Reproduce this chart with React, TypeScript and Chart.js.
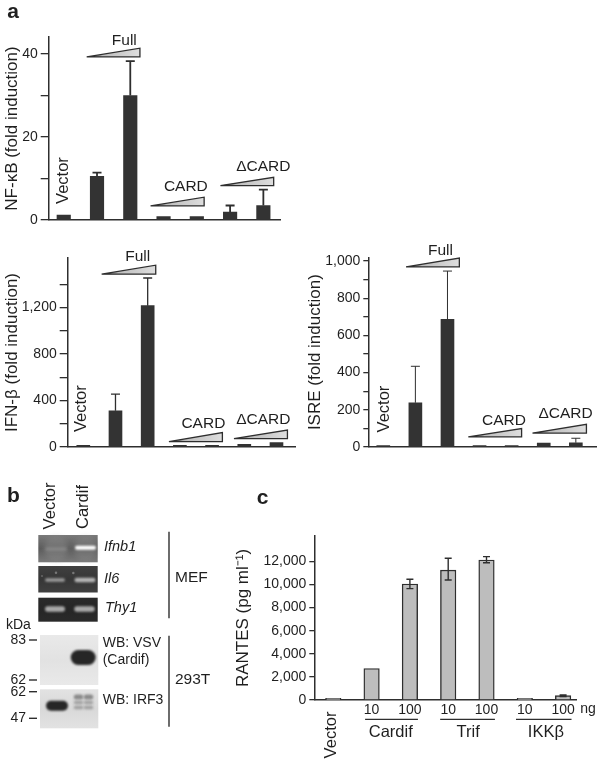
import React, { useEffect, useRef } from "react";
import { Chart, registerables } from "chart.js";

Chart.register(...registerables);
const FONT = "'Liberation Sans', Arial, sans-serif";
Chart.defaults.font.family = FONT;
Chart.defaults.color = "#222";
const INK = "#2e2e2e";

// ---------- Data ----------
const nfkbValues = [1.2, 10.5, 30, 0.8, 0.8, 1.9, 3.5];
const nfkbUpper = [null, 11.4, 38.3, null, null, 3.5, 7.3];
const nfkbTicks = [0, 20, 40];
const nfkbAllTicks = [0, 10, 20, 30, 40];

const ifnValues = [15, 312, 1215, 15, 15, 23, 37];
const ifnUpper = [null, 455, 1453, null, null, null, null];
const ifnTicks = [0, 400, 800, 1200];
const ifnAllTicks = [0, 200, 400, 600, 800, 1000, 1200, 1400];

const isreValues = [8, 238, 686, 8, 8, 21, 23];
const isreUpper = [null, 434, 946, null, null, null, 47];
const isreTicks = [0, 200, 400, 600, 800, 1000];
const isreAllTicks = [0, 100, 200, 300, 400, 500, 600, 700, 800, 900, 1000];

const rantesLabels = ["", "10", "100", "10", "100", "10", "100"];
const rantesValues = [150, 2730, 10040, 11250, 12120, 150, 380];
const rantesUpper = [null, null, 10450, 12270, 12410, null, 430];
const rantesLower = [null, null, 9640, 10390, 11890, null, 300];
const rantesTicks = [0, 2000, 4000, 6000, 8000, 10000, 12000];

// ---------- Annotations, in each chart's data units ----------
type Wedge = { from: number; to: number; base: number; top: number };
type Label = { text: string; x: number; y: number; size?: number; rotate?: boolean; align?: CanvasTextAlign; weight?: string; italic?: boolean };
type Rule = { from: number; to: number; y: number };

const nfkbWedges: Wedge[] = [
  { from: 1.69, to: 3.29, base: 39.3, top: 41.4 },
  { from: 3.61, to: 5.22, base: 3.4, top: 5.5 },
  { from: 5.71, to: 7.31, base: 8.3, top: 10.3 },
];
const nfkbLabels: Label[] = [
  { text: "Full", x: 2.82, y: 43.2 },
  { text: "CARD", x: 4.67, y: 8 },
  { text: "ΔCARD", x: 7.0, y: 12.8 },
  { text: "Vector", x: 0.98, y: 9.5, rotate: true, size: 16.5 },
  { text: "a", x: -0.7, y: 50, size: 21, weight: "bold", align: "left" },
];
const ifnWedges: Wedge[] = [
  { from: 1.57, to: 3.25, base: 1486, top: 1563 },
  { from: 3.66, to: 5.32, base: 46, top: 124 },
  { from: 5.68, to: 7.34, base: 72, top: 146 },
];
const ifnLabels: Label[] = [
  { text: "Full", x: 2.69, y: 1634 },
  { text: "CARD", x: 4.73, y: 204 },
  { text: "ΔCARD", x: 6.59, y: 236 },
  { text: "Vector", x: 0.94, y: 330, rotate: true, size: 16.5 },
];
const isreWedges: Wedge[] = [
  { from: 1.71, to: 3.37, base: 968, top: 1016 },
  { from: 3.65, to: 5.31, base: 54, top: 99 },
  { from: 5.65, to: 7.33, base: 75, top: 122 },
];
const isreLabels: Label[] = [
  { text: "Full", x: 2.78, y: 1058 },
  { text: "CARD", x: 4.76, y: 142 },
  { text: "ΔCARD", x: 6.68, y: 180 },
  { text: "Vector", x: 1.04, y: 204, rotate: true, size: 16.5 },
];
const rantesRules: Rule[] = [
  { from: 1.83, to: 3.21, y: -1671 },
  { from: 3.79, to: 5.22, y: -1671 },
  { from: 5.77, to: 7.22, y: -1671 },
];
const rantesNotes: Label[] = [
  { text: "Cardif", x: 2.5, y: -2771, size: 16.5 },
  { text: "Trif", x: 4.52, y: -2771, size: 16.5 },
  { text: "IKKβ", x: 6.55, y: -2771, size: 16.5 },
  { text: "ng", x: 7.65, y: -779, size: 14 },
  { text: "Vector", x: 0.96, y: -3030, rotate: true, size: 16.5 },
  { text: "c", x: -1.0, y: 17480, size: 21, weight: "bold", align: "left" },
];

// ---------- Panel b (axis units equal page units) ----------
const gels = [
  { x0: 38.3, x1: 97.7, y0: 535, y1: 562.3, edge: "#7a7a7a", mid: "#5c5c5c" },
  { x0: 38.3, x1: 97.7, y0: 566, y1: 592.5, edge: "#404040", mid: "#363636" },
  { x0: 38.3, x1: 97.7, y0: 597.7, y1: 621.7, edge: "#2a2a2a", mid: "#262626" },
  { x0: 40, x1: 98.3, y0: 635, y1: 685, edge: "#e9e9e9", mid: "#e2e2e2" },
  { x0: 40, x1: 98.3, y0: 689.3, y1: 728.3, edge: "#e2e2e2", mid: "#d9d9d9" },
];
const bands = [
  // lane glow and the dark gap of the first gel
  { x: 56, y: 548.5, w: 23, h: 25, color: "rgba(150,150,150,0.32)", blur: 2.5 },
  { x: 85.5, y: 548.5, w: 23, h: 25, color: "rgba(150,150,150,0.28)", blur: 2.5 },
  { x: 56, y: 549, w: 22, h: 3, color: "rgba(170,170,170,0.5)", blur: 1.5 },
  { x: 85.5, y: 547.7, w: 21, h: 4, color: "#ffffff", blur: 0.9 },
  // second gel
  { x: 55, y: 580, w: 20, h: 3.5, color: "#9a9a9a", blur: 0.9 },
  { x: 85, y: 580, w: 21, h: 4.5, color: "#b5b5b5", blur: 0.9 },
  { x: 56, y: 572.7, w: 2.5, h: 2.5, color: "#777777", blur: 0.6 },
  { x: 73.3, y: 573, w: 2.5, h: 2.5, color: "#777777", blur: 0.6 },
  { x: 42, y: 576, w: 2, h: 2, color: "#666666", blur: 0.6 },
  // third gel
  { x: 55, y: 609, w: 20, h: 5.5, color: "#aaaaaa", blur: 0.9 },
  { x: 84.5, y: 609, w: 20.5, h: 5.5, color: "#aaaaaa", blur: 0.9 },
  // immunoblots
  { x: 83.2, y: 657.5, w: 25, h: 15, color: "#262626", blur: 0.9 },
  { x: 57, y: 705.7, w: 22, h: 10, color: "#262626", blur: 0.8 },
  { x: 78.5, y: 697, w: 9.5, h: 5, color: "rgba(110,110,110,0.75)", blur: 1.3 },
  { x: 88.5, y: 697, w: 9.5, h: 5, color: "rgba(110,110,110,0.75)", blur: 1.3 },
  { x: 78.5, y: 702.5, w: 9.5, h: 3.5, color: "rgba(130,130,130,0.65)", blur: 1.2 },
  { x: 88.5, y: 702.5, w: 9.5, h: 3.5, color: "rgba(130,130,130,0.65)", blur: 1.2 },
  { x: 78.5, y: 707.5, w: 9.5, h: 3.5, color: "rgba(130,130,130,0.65)", blur: 1.2 },
  { x: 88.5, y: 707.5, w: 9.5, h: 3.5, color: "rgba(130,130,130,0.65)", blur: 1.2 },
];
const blotLabels: Label[] = [
  { text: "b", x: 7, y: 496.7, size: 21, weight: "bold", align: "left" },
  { text: "Vector", x: 50, y: 506, size: 16.5, rotate: true },
  { text: "Cardif", x: 83, y: 507, size: 16.5, rotate: true },
  { text: "Ifnb1", x: 104, y: 546.7, size: 14.5, italic: true, align: "left" },
  { text: "Il6", x: 104, y: 579, size: 14.5, italic: true, align: "left" },
  { text: "Thy1", x: 105, y: 607.7, size: 14.5, italic: true, align: "left" },
  { text: "MEF", x: 175, y: 578, size: 15.5, align: "left" },
  { text: "293T", x: 175, y: 680, size: 15.5, align: "left" },
  { text: "kDa", x: 6, y: 625, size: 14, align: "left" },
  { text: "83", x: 26, y: 640, size: 14, align: "right" },
  { text: "62", x: 26, y: 680, size: 14, align: "right" },
  { text: "62", x: 26, y: 691.7, size: 14, align: "right" },
  { text: "47", x: 26, y: 718.3, size: 14, align: "right" },
  { text: "WB: VSV", x: 102.7, y: 643.3, size: 14, align: "left" },
  { text: "(Cardif)", x: 102.7, y: 660, size: 14, align: "left" },
  { text: "WB: IRF3", x: 102.7, y: 700, size: 14, align: "left" },
];
const kdaMarks = [640, 680, 691.7, 718.3];
const brackets = [
  { y0: 531.7, y1: 618.3 },
  { y0: 635.7, y1: 726.7 },
];

// ---------- Plugins ----------
function drawLabel(ctx: CanvasRenderingContext2D, l: Label, x: number, y: number) {
  ctx.save();
  ctx.fillStyle = "#1f1f1f";
  ctx.font = `${l.italic ? "italic " : ""}${l.weight ?? "normal"} ${l.size ?? 15.5}px ${FONT}`;
  ctx.textAlign = l.align ?? "center";
  ctx.textBaseline = "middle";
  ctx.translate(x, y);
  if (l.rotate) ctx.rotate(-Math.PI / 2);
  ctx.fillText(l.text, 0, 0);
  ctx.restore();
}

const overlay = {
  id: "overlay",
  afterDatasetsDraw(chart: any, _a: any, o: any) {
    const { ctx, scales } = chart;
    const X = scales.x, Y = scales.y;
    const ds = chart.data.datasets[0];
    if (ds && o.upper) {
      ctx.save();
      ctx.strokeStyle = INK;
      ctx.lineWidth = o.errWidth ?? 1.5;
      o.upper.forEach((u: number | null, i: number) => {
        if (u == null) return;
        const px = X.getPixelForValue(i + 1);
        const top = Y.getPixelForValue(u);
        const low = o.lower && o.lower[i] != null ? o.lower[i] : ds.data[i].y;
        const bot = Y.getPixelForValue(low);
        const c = o.cap ?? 4.5;
        ctx.beginPath();
        ctx.moveTo(px, bot); ctx.lineTo(px, top);
        ctx.moveTo(px - c, top); ctx.lineTo(px + c, top);
        if (o.lower && o.lower[i] != null) { ctx.moveTo(px - c, bot); ctx.lineTo(px + c, bot); }
        ctx.stroke();
      });
      ctx.restore();
    }
    (o.wedges ?? []).forEach((w: Wedge) => {
      const x0 = X.getPixelForValue(w.from), x1 = X.getPixelForValue(w.to);
      const yb = Y.getPixelForValue(w.base), yt = Y.getPixelForValue(w.top);
      const g = ctx.createLinearGradient(x0, 0, x1, 0);
      g.addColorStop(0, "#3a3a3a"); g.addColorStop(0.3, "#bdbdbd"); g.addColorStop(1, "#dedede");
      ctx.save();
      ctx.beginPath();
      ctx.moveTo(x0, yb); ctx.lineTo(x1, yt); ctx.lineTo(x1, yb); ctx.closePath();
      ctx.fillStyle = g; ctx.fill();
      ctx.strokeStyle = INK; ctx.lineWidth = 1.3; ctx.stroke();
      ctx.restore();
    });
    (o.rules ?? []).forEach((r: Rule) => {
      const y = Y.getPixelForValue(r.y);
      ctx.save();
      ctx.strokeStyle = INK; ctx.lineWidth = 1.2;
      ctx.beginPath();
      ctx.moveTo(X.getPixelForValue(r.from), y); ctx.lineTo(X.getPixelForValue(r.to), y);
      ctx.stroke(); ctx.restore();
    });
    (o.labels ?? []).forEach((l: Label) => drawLabel(ctx, l, X.getPixelForValue(l.x), Y.getPixelForValue(l.y)));
  },
};

const blots = {
  id: "blots",
  afterDatasetsDraw(chart: any) {
    const { ctx, scales } = chart;
    const X = scales.x, Y = scales.y;
    gels.forEach((g) => {
      const x0 = X.getPixelForValue(g.x0), x1 = X.getPixelForValue(g.x1);
      const y0 = Y.getPixelForValue(g.y0), y1 = Y.getPixelForValue(g.y1);
      const grad = ctx.createLinearGradient(0, y0, 0, y1);
      grad.addColorStop(0, g.edge); grad.addColorStop(0.5, g.mid); grad.addColorStop(1, g.edge);
      ctx.fillStyle = grad;
      ctx.fillRect(x0, y0, x1 - x0, y1 - y0);
    });
    bands.forEach((b) => {
      ctx.save();
      ctx.filter = `blur(${b.blur}px)`;
      ctx.fillStyle = b.color;
      ctx.beginPath();
      ctx.roundRect(X.getPixelForValue(b.x - b.w / 2), Y.getPixelForValue(b.y - b.h / 2), b.w, b.h, Math.min(b.h, b.w) / 2);
      ctx.fill();
      ctx.restore();
    });
    ctx.save();
    ctx.strokeStyle = INK; ctx.lineWidth = 1.4;
    brackets.forEach((b) => {
      ctx.beginPath();
      ctx.moveTo(X.getPixelForValue(169), Y.getPixelForValue(b.y0));
      ctx.lineTo(X.getPixelForValue(169), Y.getPixelForValue(b.y1));
      ctx.stroke();
    });
    kdaMarks.forEach((m) => {
      ctx.beginPath();
      ctx.moveTo(X.getPixelForValue(29), Y.getPixelForValue(m));
      ctx.lineTo(X.getPixelForValue(37), Y.getPixelForValue(m));
      ctx.stroke();
    });
    ctx.restore();
    blotLabels.forEach((l) => drawLabel(ctx, l, X.getPixelForValue(l.x), Y.getPixelForValue(l.y)));
  },
};

// ---------- Chart configs ----------
type Box = { left: number; top: number; width: number; height: number };
type BarSpec = {
  box: Box; plot: { left: number; top: number; right: number; bottom: number };
  values: number[]; xMin: number; xMax: number; yMax: number; allTicks: number[]; labelled: number[];
  title: string; titlePad: number; barWidth: number; fill: string; barBorder?: number; tickLen: number;
  xLabels?: string[]; overlay: any; titleSize?: number;
};

function barConfig(s: BarSpec): any {
  const idx = s.values.map((_, i) => i + 1);
  return {
    type: "bar",
    data: {
      datasets: [{
        data: s.values.map((y, i) => ({ x: idx[i], y })),
        backgroundColor: s.fill,
        borderColor: INK,
        borderWidth: s.barBorder ?? 0,
        barThickness: s.barWidth,
      }],
    },
    options: {
      animation: false, responsive: false,
      layout: { padding: { left: 0, top: s.plot.top - s.box.top, right: s.box.left + s.box.width - s.plot.right, bottom: 0 } },
      plugins: { legend: { display: false }, tooltip: { enabled: false }, overlay: s.overlay },
      scales: {
        x: {
          type: "linear", min: s.xMin, max: s.xMax, offset: false,
          grid: { display: false, drawTicks: false, tickLength: 0, offset: false },
          border: { display: true, color: INK, width: 1.5 },
          afterBuildTicks: (sc: any) => { sc.ticks = idx.map((value) => ({ value })); },
          afterFit: (sc: any) => { sc.height = s.box.top + s.box.height - s.plot.bottom; },
          ticks: {
            display: !!s.xLabels, padding: 2, maxRotation: 0, autoSkip: false, font: { size: 14 }, color: "#1f1f1f",
            callback: (v: number) => (s.xLabels ? s.xLabels[v - 1] : ""),
          },
        },
        y: {
          min: 0, max: s.yMax,
          grid: { display: true, drawOnChartArea: false, drawTicks: true, tickLength: s.tickLen, color: INK, lineWidth: 1.3 },
          border: { display: true, color: INK, width: 1.5 },
          afterBuildTicks: (sc: any) => { sc.ticks = s.allTicks.map((value) => ({ value })); },
          afterFit: (sc: any) => { sc.width = s.plot.left - s.box.left; },
          title: { display: true, text: s.title, font: { size: s.titleSize ?? 17 }, color: "#1f1f1f", padding: { top: s.titlePad, bottom: 0 } },
          ticks: {
            autoSkip: false, padding: 3, font: { size: 14 }, color: "#1f1f1f",
            callback: (v: number) => (s.labelled.includes(v) ? v.toLocaleString("en-US") : ""),
          },
        },
      },
    },
    plugins: [overlay],
  };
}

const specs: BarSpec[] = [
  {
    box: { left: 0, top: 0, width: 310, height: 240 },
    plot: { left: 48.7, top: 37, right: 280, bottom: 220 },
    values: nfkbValues, xMin: 0.548, xMax: 7.5, yMax: 44.1, allTicks: nfkbAllTicks, labelled: nfkbTicks,
    title: "NF-κB (fold induction)", titlePad: 2.4, barWidth: 13.5, fill: "#333333", tickLen: 8,
    overlay: { upper: nfkbUpper, errWidth: 1.8, wedges: nfkbWedges, labels: nfkbLabels },
  },
  {
    box: { left: 0, top: 240, width: 300, height: 230 },
    plot: { left: 67.7, top: 258, right: 295, bottom: 447 },
    values: ifnValues, xMin: 0.516, xMax: 7.575, yMax: 1625, allTicks: ifnAllTicks, labelled: ifnTicks,
    title: "IFN-β (fold induction)", titlePad: 2.4, barWidth: 13, fill: "#333333", tickLen: 8,
    overlay: { upper: ifnUpper, errWidth: 1.3, wedges: ifnWedges, labels: ifnLabels },
  },
  {
    box: { left: 300, top: 240, width: 300, height: 230 },
    plot: { left: 368.3, top: 257.3, right: 596.7, bottom: 447 },
    values: isreValues, xMin: 0.533, xMax: 7.65, yMax: 1020, allTicks: isreAllTicks, labelled: isreTicks,
    title: "ISRE (fold induction)", titlePad: 5.4, barWidth: 13, fill: "#333333", tickLen: 5,
    overlay: { upper: isreUpper, errWidth: 1, wedges: isreWedges, labels: isreLabels },
  },
  {
    box: { left: 225, top: 480, width: 375, height: 280 },
    plot: { left: 314.3, top: 536, right: 576.7, bottom: 700 },
    values: rantesValues, xMin: 0.504, xMax: 7.355, yMax: 14200, allTicks: rantesTicks, labelled: rantesTicks,
    title: "RANTES (pg ml⁻¹)", titlePad: 8.1, barWidth: 15.5, fill: "#bdbdbd", barBorder: 1.4, tickLen: 5,
    xLabels: rantesLabels,
    overlay: { upper: rantesUpper, lower: rantesLower, errWidth: 1.4, cap: 3.5, rules: rantesRules, labels: rantesNotes },
  },
];

const blotBox: Box = { left: 0, top: 480, width: 225, height: 280 };
function blotConfig(): any {
  return {
    type: "scatter",
    data: { datasets: [{ data: [] }] },
    options: {
      animation: false, responsive: false,
      layout: { padding: 0 },
      plugins: { legend: { display: false }, tooltip: { enabled: false } },
      scales: {
        x: { type: "linear", display: false, min: blotBox.left, max: blotBox.left + blotBox.width },
        y: { type: "linear", display: false, reverse: true, min: blotBox.top, max: blotBox.top + blotBox.height },
      },
    },
    plugins: [blots],
  };
}

function Panel({ box, make }: { box: Box; make: () => any }) {
  const ref = useRef<HTMLCanvasElement>(null);
  useEffect(() => {
    const chart = new Chart(ref.current!, make());
    return () => chart.destroy();
  }, []);
  return (
    <canvas
      ref={ref}
      width={box.width}
      height={box.height}
      style={{ position: "absolute", left: box.left, top: box.top, width: box.width, height: box.height }}
    />
  );
}

export default function App() {
  return (
    <div style={{ position: "absolute", left: 0, top: 0, width: 600, height: 760, background: "#fff", overflow: "hidden" }}>
      <Panel box={blotBox} make={blotConfig} />
      {specs.map((s, i) => (
        <Panel key={i} box={s.box} make={() => barConfig(s)} />
      ))}
    </div>
  );
}
